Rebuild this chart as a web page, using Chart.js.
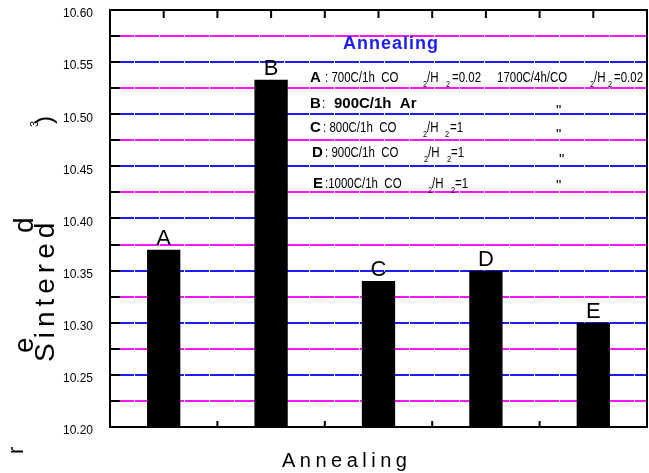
<!DOCTYPE html>
<html>
<head>
<meta charset="utf-8">
<script src="https://cdn.jsdelivr.net/npm/chart.js@4/dist/chart.umd.min.js"></script>
<style>
  html, body { margin: 0; padding: 0; background: #fff; }
  #wrap { width: 649px; height: 473px; }
</style>
</head>
<body>
<div id="wrap"><canvas id="myChart" width="649" height="473"></canvas></div>
<script>
(() => {
    'use strict';

    // data
    const categories = ['A', 'B', 'C', 'D', 'E'];
    const density = [10.37, 10.533, 10.34, 10.35, 10.30];
    const majorTicks = [10.20, 10.25, 10.30, 10.35, 10.40, 10.45, 10.50, 10.55, 10.60];
    const minorTicks = [10.225, 10.275, 10.325, 10.375, 10.425, 10.475, 10.525, 10.575];

    const allTicks = majorTicks.concat(minorTicks).sort((a, b) => a - b);
    const isMajor = v => majorTicks.some(m => Math.abs(m - v) < 1e-6);

    // is a narrow font installed?
    const mctx = document.createElement('canvas').getContext('2d');
    mctx.font = '20px monospace';
    const w0 = mctx.measureText('abcdefghij').width;
    mctx.font = '20px "Liberation Sans Narrow", monospace';
    const hasNarrow = mctx.measureText('abcdefghij').width !== w0;
    const narrow = hasNarrow ? '"Liberation Sans Narrow"' : '"Liberation Sans"';
    const sx = hasNarrow ? 1 : 0.82;
    const sans = '"Liberation Sans", Arial, sans-serif';

    const blue = '#1c1cff';
    const magenta = '#ff14ff';

    function txt(ctx, s, x, y, font, opts) {
        opts = opts || {};
        ctx.save();
        ctx.translate(x, y);
        if (opts.rot) ctx.rotate(opts.rot);
        ctx.scale(opts.sx || 1, 1);
        ctx.font = font;
        ctx.fillStyle = opts.color || '#000';
        ctx.textAlign = opts.align || 'left';
        ctx.textBaseline = opts.base || 'alphabetic';
        ctx.letterSpacing = opts.ls || '0px';
        ctx.fillText(s, 0, 0);
        ctx.restore();
    }

    const n14 = '14px ' + narrow;
    const n9 = '9px ' + narrow;
    const b15 = 'bold 15px ' + sans;

    // annotation runs: text, x, baseline y, font, scaled
    const legendRuns = [
        ['A', 310, 82, b15], [': 700C/1h  CO', 325, 82, n14, 1], ['2', 423, 87, n9, 1],
        ['/H', 427, 82, n14, 1], ['2', 446, 87, n9, 1], ['=0.02', 452, 82, n14, 1],
        ['1700C/4h/CO', 497, 82, n14, 1], ['2', 590, 87, n9, 1], ['/H', 594, 82, n14, 1],
        ['2', 608, 87, n9, 1], ['=0.02', 614, 82, n14, 1],
        ['B', 310, 108, b15], [':', 322, 108, n14, 1], ['900C/1h  Ar', 334, 108, b15],
        ['C', 310, 132, b15], [': 800C/1h  CO', 323, 132, n14, 1], ['2', 423, 137, n9, 1],
        ['/H', 427, 132, n14, 1], ['2', 445, 137, n9, 1], ['=1', 450, 132, n14, 1],
        ['D', 312, 157, b15], [': 900C/1h  CO', 325, 157, n14, 1], ['2', 424, 162, n9, 1],
        ['/H', 428, 157, n14, 1], ['2', 447, 162, n9, 1], ['=1', 451, 157, n14, 1],
        ['E', 313, 188, b15], [':1000C/1h  CO', 325, 188, n14, 1], ['2', 428, 193, n9, 1],
        ['/H', 432, 188, n14, 1], ['2', 451, 193, n9, 1], ['=1', 455, 188, n14, 1]
    ];
    const dittos = [[556, 115], [556, 139], [559, 164], [556, 190]];

    const decor = {
        id: 'decor',
        afterDatasetsDraw(chart) {
            const ctx = chart.ctx;
            const meta = chart.getDatasetMeta(0);
            meta.data.forEach((bar, i) => {
                txt(ctx, categories[i], bar.x, bar.y - 5, '22px ' + sans, { align: 'center' });
            });
        },
        afterDraw(chart) {
            const ctx = chart.ctx;
            const a = chart.chartArea;
            const xs = chart.scales.x;
            const ys = chart.scales.y;

            ctx.save();
            ctx.strokeStyle = '#000';
            ctx.lineWidth = 2;
            ctx.strokeRect(a.left, a.top, a.right - a.left, a.bottom - a.top);

            // inner ticks on the left axis
            ctx.beginPath();
            allTicks.forEach(v => {
                const y = Math.round(ys.getPixelForValue(v));
                ctx.moveTo(a.left, y);
                ctx.lineTo(a.left + 10, y);
            });
            // top ticks every half category, bottom ticks at category borders
            for (let i = 0; i < categories.length; i++) {
                const c = xs.getPixelForValue(i);
                ctx.moveTo(c, a.top);
                ctx.lineTo(c, a.top + 8);
                if (i < categories.length - 1) {
                    const b = (c + xs.getPixelForValue(i + 1)) / 2;
                    ctx.moveTo(b, a.top);
                    ctx.lineTo(b, a.top + 8);
                    ctx.moveTo(b, a.bottom);
                    ctx.lineTo(b, a.bottom - 6);
                }
            }
            ctx.stroke();
            ctx.restore();

            // annotation block
            txt(ctx, 'Annealing', 343, 49, 'bold 18px ' + sans, { color: blue, ls: '1px' });
            legendRuns.forEach(r => txt(ctx, r[0], r[1], r[2], r[3], { sx: r[4] ? sx : 1 }));
            dittos.forEach(d => txt(ctx, '"', d[0], d[1], '15px ' + sans));

            // axis titles
            txt(ctx, 'Annealing', 282, 467, '20px ' + sans, { ls: '4.5px' });
            const rot = -Math.PI / 2;
            txt(ctx, 'Sintered', 54, 362, '28px ' + sans, { rot: rot, ls: '5px' });
            txt(ctx, 'd', 33, 233, '28px ' + sans, { rot: rot });
            txt(ctx, 'e', 33, 353, '28px ' + sans, { rot: rot });
            txt(ctx, 'r', 23, 454, '22px ' + sans, { rot: rot });
            txt(ctx, '3', 38, 127, '11px ' + sans, { rot: rot });
            txt(ctx, ')', 52, 124, '24px ' + sans, { rot: rot });
        }
    };

    const ctx = document.getElementById('myChart').getContext('2d');
    // eslint-disable-next-line no-unused-vars
    const myChart = new Chart(ctx, {
        type: 'bar',
        data: {
            labels: categories,
            datasets: [{
                data: density,
                backgroundColor: '#000',
                borderWidth: 0,
                barPercentage: 0.31,
                categoryPercentage: 1
            }]
        },
        options: {
            responsive: false,
            animation: false,
            events: [],
            layout: { padding: { top: 0, right: 2, left: 0, bottom: 0 } },
            scales: {
                x: {
                    offset: true,
                    grid: { display: false },
                    border: { display: false },
                    ticks: { display: false },
                    afterFit: s => { s.height = 46; s.paddingLeft = 0; s.paddingRight = 0; }
                },
                y: {
                    min: 10.2,
                    max: 10.6,
                    afterBuildTicks: s => { s.ticks = allTicks.map(v => ({ value: v })); },
                    afterFit: s => { s.width = 110; s.paddingTop = 10; s.paddingBottom = 0; },
                    ticks: {
                        autoSkip: false,
                        callback: v => isMajor(v) ? v.toFixed(2) : '',
                        padding: 17,
                        labelOffset: 4,
                        color: '#000',
                        font: { family: narrow, size: hasNarrow ? 14 : 12 }
                    },
                    grid: {
                        color: c => (c.tick && isMajor(c.tick.value)) ? blue : magenta,
                        lineWidth: 2,
                        drawTicks: false
                    },
                    border: { display: false, dash: [24, 1] }
                }
            },
            plugins: {
                legend: { display: false },
                tooltip: { enabled: false }
            }
        },
        plugins: [decor]
    });
})();
</script>
</body>
</html>
